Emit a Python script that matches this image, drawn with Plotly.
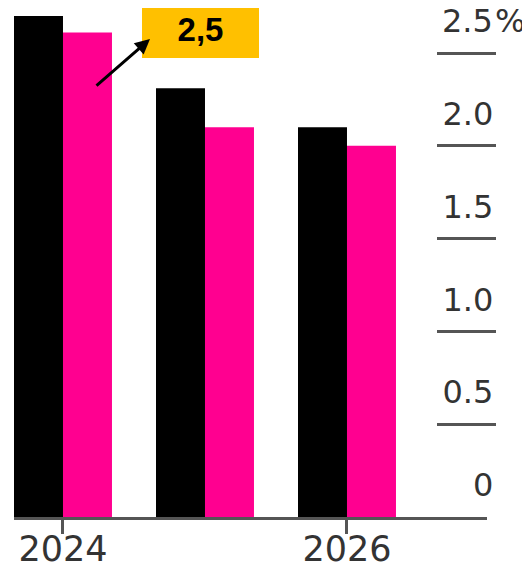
import plotly.graph_objects as go

years = [2024, 2025, 2026]
series_black = [2.70, 2.31, 2.10]
series_pink = [2.61, 2.10, 2.00]
ytick_vals = [0, 0.5, 1.0, 1.5, 2.0, 2.5]
ytick_text = ["0", "0.5", "1.0", "1.5", "2.0", "2.5"]
ytick_unit = "%"
xtick_vals = [2024, 2026]
xtick_text = ["2024", "2026"]
callout_text = "2,5"

fig = go.Figure()
fig.add_bar(x=years, y=series_black, marker_color="#000000", marker_line_width=0, name="A")
fig.add_bar(x=years, y=series_pink, marker_color="#FF0090", marker_line_width=0, name="B")

# page has an 8px body margin; figure coordinates = page coordinates - 8
OFF = 8
W, H = 530 - OFF, 567 - OFF
L, T = 14 - OFF, 0
B = H - (517 - OFF)
R = W - (496 - OFF)
pw = W - L - R
ph = H - T - B

def px(x_page):
    return (x_page - OFF - L) / pw

def py(y_page):
    return (H - B - (y_page - OFF)) / ph

AXFONT = "DejaVu Sans, sans-serif"
LABEL_SHIFT = 32

# the top tick label would overflow the plot area, so it is drawn as an annotation
axis_ticktext = ytick_text[:-1] + [""]

fig.update_layout(
    width=W, height=H,
    margin=dict(l=L, r=R, t=T, b=B, autoexpand=False),
    paper_bgcolor="white", plot_bgcolor="white",
    barmode="group", bargap=0.31, bargroupgap=0,
    showlegend=False,
    font=dict(family=AXFONT, color="#333333"),
    xaxis=dict(
        domain=[0, (487 - OFF - L) / pw],
        range=[2023.655, 2026.986],
        tickvals=xtick_vals, ticktext=xtick_text,
        ticks="outside", ticklen=14, tickwidth=3, tickcolor="#555555",
        ticklabelstandoff=-15,
        showline=True, linecolor="#555555", linewidth=3,
        showgrid=False, zeroline=False, automargin=False,
        tickfont=dict(size=35, color="#333333", family=AXFONT),
    ),
    yaxis=dict(
        range=[0, ph / 185.6],
        anchor="free", position=1, side="right",
        tickvals=ytick_vals, ticktext=axis_ticktext,
        ticks="inside", ticklen=59, tickwidth=3, tickcolor="#555555",
        ticklabelposition="inside", ticklabelstandoff=-53, ticklabelshift=-LABEL_SHIFT,
        showline=False, showgrid=False, zeroline=False, automargin=False,
        tickfont=dict(size=32, color="#333333", family=AXFONT),
    ),
)

fig.add_annotation(
    text=ytick_text[-1], xref="paper", yref="y", x=px(494), y=ytick_vals[-1],
    xanchor="right", yanchor="middle", yshift=LABEL_SHIFT, borderpad=0,
    showarrow=False, font=dict(size=32, color="#333333", family=AXFONT),
)
fig.add_annotation(
    text=ytick_unit, xref="paper", yref="y", x=px(494), y=ytick_vals[-1],
    xanchor="left", yanchor="middle", yshift=LABEL_SHIFT, borderpad=0,
    showarrow=False, font=dict(size=32, color="#333333", family=AXFONT),
)

fig.add_annotation(
    text="<b>" + callout_text + "</b>", xref="paper", yref="paper",
    x=px(200.5), y=py(29), xanchor="center", yanchor="middle",
    width=117, height=58, bgcolor="#FFC000", borderpad=0, borderwidth=0,
    showarrow=False, font=dict(size=33, color="#000000", family="Liberation Sans, Arial, sans-serif"),
)

fig.add_annotation(
    text="", xref="paper", yref="paper", x=px(150), y=py(39),
    ax=-55, ay=48, showarrow=True, arrowhead=2, arrowsize=1, arrowwidth=3,
    arrowcolor="#000000", standoff=0,
)

fig.write_html("out.html")
